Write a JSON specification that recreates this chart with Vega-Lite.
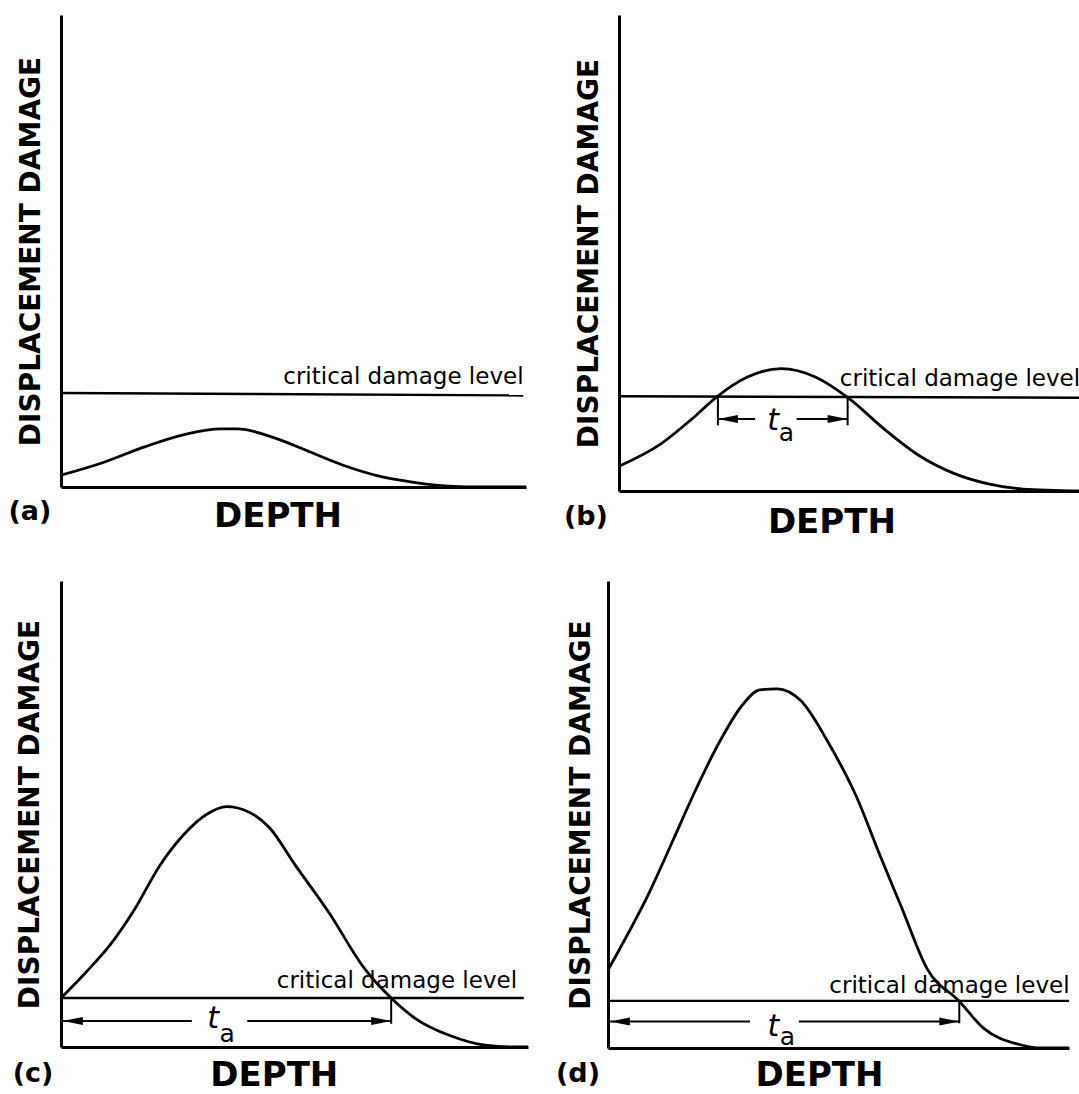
{
  "$schema": "https://vega.github.io/schema/vega-lite/v6.json",
  "background": "white",
  "padding": {"left": 8, "top": 15, "right": 0, "bottom": 0},
  "config": {
    "view": {"stroke": null},
    "axis": {"domainColor": "black", "domainWidth": 3, "ticks": false, "labels": false, "grid": false, "titleColor": "black", "titleFont": "DejaVu Sans", "titleFontWeight": "bold"},
    "axisX": {"titleFontSize": 34},
    "axisY": {"titleFontSize": 28}
  },
  "datasets": {
    "curve": [
      {"panel": "a", "x": 0, "y": 2.5}, {"panel": "a", "x": 9.1, "y": 5.2}, {"panel": "a", "x": 18.0, "y": 8.5}, {"panel": "a", "x": 26.9, "y": 11.2}, {"panel": "a", "x": 34.3, "y": 12.3}, {"panel": "a", "x": 38.0, "y": 12.3}, {"panel": "a", "x": 46.2, "y": 10.3}, {"panel": "a", "x": 53.6, "y": 7.4}, {"panel": "a", "x": 61.0, "y": 4.5}, {"panel": "a", "x": 68.4, "y": 2.3}, {"panel": "a", "x": 75.9, "y": 1.0}, {"panel": "a", "x": 83.3, "y": 0.2}, {"panel": "a", "x": 90.7, "y": 0}, {"panel": "a", "x": 100, "y": 0},
      {"panel": "b", "x": 0, "y": 5.2}, {"panel": "b", "x": 9.1, "y": 9.9}, {"panel": "b", "x": 15.8, "y": 15.1}, {"panel": "b", "x": 21.4, "y": 19.9}, {"panel": "b", "x": 27.8, "y": 23.9}, {"panel": "b", "x": 35.3, "y": 25.7}, {"panel": "b", "x": 42.8, "y": 23.9}, {"panel": "b", "x": 49.9, "y": 19.5}, {"panel": "b", "x": 57.8, "y": 12.9}, {"panel": "b", "x": 65.3, "y": 7.4}, {"panel": "b", "x": 72.8, "y": 3.7}, {"panel": "b", "x": 80.3, "y": 1.5}, {"panel": "b", "x": 87.8, "y": 0.4}, {"panel": "b", "x": 100, "y": 0},
      {"panel": "c", "x": 0, "y": 10.5}, {"panel": "c", "x": 5.3, "y": 16.0}, {"panel": "c", "x": 10.6, "y": 22.0}, {"panel": "c", "x": 15.8, "y": 29.6}, {"panel": "c", "x": 21.0, "y": 38.7}, {"panel": "c", "x": 26.2, "y": 45.5}, {"panel": "c", "x": 31.3, "y": 50.0}, {"panel": "c", "x": 35.4, "y": 51.6}, {"panel": "c", "x": 40.3, "y": 50.4}, {"panel": "c", "x": 44.7, "y": 47.0}, {"panel": "c", "x": 49.9, "y": 39.4}, {"panel": "c", "x": 57.4, "y": 28.8}, {"panel": "c", "x": 64.8, "y": 17.1}, {"panel": "c", "x": 70.7, "y": 10.5}, {"panel": "c", "x": 75.9, "y": 6.1}, {"panel": "c", "x": 83.4, "y": 2.4}, {"panel": "c", "x": 90.8, "y": 0.4}, {"panel": "c", "x": 97.4, "y": 0}, {"panel": "c", "x": 100, "y": 0},
      {"panel": "d", "x": 0, "y": 16.7}, {"panel": "d", "x": 3.8, "y": 23.5}, {"panel": "d", "x": 9.0, "y": 33.4}, {"panel": "d", "x": 14.2, "y": 44.7}, {"panel": "d", "x": 18.7, "y": 54.6}, {"panel": "d", "x": 24.0, "y": 65.2}, {"panel": "d", "x": 29.2, "y": 73.5}, {"panel": "d", "x": 32.9, "y": 76.7}, {"panel": "d", "x": 36.7, "y": 76.9}, {"panel": "d", "x": 41.9, "y": 74.3}, {"panel": "d", "x": 47.9, "y": 65.2}, {"panel": "d", "x": 53.9, "y": 53.8}, {"panel": "d", "x": 59.1, "y": 41.0}, {"panel": "d", "x": 63.6, "y": 30.3}, {"panel": "d", "x": 69.2, "y": 17.0}, {"panel": "d", "x": 76.2, "y": 10.0}, {"panel": "d", "x": 81.5, "y": 4.2}, {"panel": "d", "x": 89.0, "y": 0.8}, {"panel": "d", "x": 94, "y": 0}, {"panel": "d", "x": 100, "y": 0}
    ],
    "critical": [
      {"panel": "a", "x": 0, "y": 19.9}, {"panel": "a", "x": 99.4, "y": 19.4},
      {"panel": "b", "x": 0, "y": 19.9}, {"panel": "b", "x": 100, "y": 19.6},
      {"panel": "c", "x": 0, "y": 10.5}, {"panel": "c", "x": 99.1, "y": 10.5},
      {"panel": "d", "x": 0, "y": 10.1}, {"panel": "d", "x": 100, "y": 10.1}
    ],
    "shafts": [
      {"panel": "b", "x": 21.5, "x2": 29.6, "y": 15.1}, {"panel": "b", "x": 38.6, "x2": 49.7, "y": 15.1},
      {"panel": "c", "x": 0, "x2": 28.0, "y": 5.6}, {"panel": "c", "x": 39.9, "x2": 70.7, "y": 5.6},
      {"panel": "d", "x": 0, "x2": 30.8, "y": 5.7}, {"panel": "d", "x": 41.4, "x2": 76.2, "y": 5.7}
    ],
    "bars": [
      {"panel": "b", "x": 21.5, "y": 19.9, "y2": 13.8}, {"panel": "b", "x": 49.7, "y": 19.6, "y2": 13.8},
      {"panel": "c", "x": 70.7, "y": 10.5, "y2": 5.0},
      {"panel": "d", "x": 76.2, "y": 10.0, "y2": 5.3}
    ],
    "heads": [
      {"panel": "b", "x": 21.5, "y": 15.1, "dir": "left"}, {"panel": "b", "x": 49.7, "y": 15.1, "dir": "right"},
      {"panel": "c", "x": 0.4, "y": 5.6, "dir": "left"}, {"panel": "c", "x": 70.7, "y": 5.6, "dir": "right"},
      {"panel": "d", "x": 0.4, "y": 5.7, "dir": "left"}, {"panel": "d", "x": 76.2, "y": 5.7, "dir": "right"}
    ],
    "notes": [
      {"panel": "a", "kind": "crit", "text": "critical damage level", "x": 47.8, "y": 21.9},
      {"panel": "b", "kind": "crit", "text": "critical damage level", "x": 48.0, "y": 22.0},
      {"panel": "c", "kind": "crit", "text": "critical damage level", "x": 46.2, "y": 12.7},
      {"panel": "d", "kind": "crit", "text": "critical damage level", "x": 48.0, "y": 11.8},
      {"panel": "b", "kind": "t", "text": "t", "x": 33.5, "y": 14.7},
      {"panel": "c", "kind": "t", "text": "t", "x": 32.6, "y": 6.1},
      {"panel": "d", "kind": "t", "text": "t", "x": 35.9, "y": 4.5},
      {"panel": "b", "kind": "sub", "text": "a", "x": 36.4, "y": 12.2},
      {"panel": "c", "kind": "sub", "text": "a", "x": 35.6, "y": 2.7},
      {"panel": "d", "kind": "sub", "text": "a", "x": 38.9, "y": 2.3},
      {"panel": "a", "kind": "tag", "text": "(a)", "x": -6.7, "y": -5.3},
      {"panel": "b", "kind": "tag", "text": "(b)", "x": -7.2, "y": -5.5},
      {"panel": "c", "kind": "tag", "text": "(c)", "x": -6.0, "y": -5.7},
      {"panel": "d", "kind": "tag", "text": "(d)", "x": -6.5, "y": -5.6}
    ]
  },
  "spacing": 42,
  "bounds": "full",
  "vconcat": [
    {
      "spacing": 93,
      "bounds": "flush",
      "hconcat": [
        {
          "width": 465, "height": 472,
          "encoding": {
            "x": {"field": "x", "type": "quantitative", "scale": {"domain": [0, 100], "nice": false, "zero": false}, "axis": {"title": "DEPTH", "titleX": 216.5, "titlePadding": 12}},
            "y": {"field": "y", "type": "quantitative", "scale": {"domain": [0, 100], "nice": false, "zero": false}, "axis": {"title": "DISPLACEMENT DAMAGE", "titlePadding": 16}}
          },
          "layer": [
            {"data": {"name": "curve"}, "transform": [{"filter": "datum.panel === 'a'"}], "mark": {"type": "line", "interpolate": "monotone", "color": "black", "strokeWidth": 2.8}},
            {"data": {"name": "critical"}, "transform": [{"filter": "datum.panel === 'a'"}], "mark": {"type": "line", "color": "black", "strokeWidth": 2.4}},
            {"data": {"name": "notes"}, "transform": [{"filter": "datum.panel === 'a' && datum.kind === 'crit'"}], "mark": {"type": "text", "font": "DejaVu Sans", "fontSize": 23, "align": "left", "baseline": "alphabetic", "color": "black"}, "encoding": {"text": {"field": "text"}}},
            {"data": {"name": "notes"}, "transform": [{"filter": "datum.panel === 'a' && datum.kind === 'tag'"}], "mark": {"type": "text", "font": "DejaVu Sans", "fontWeight": "bold", "fontSize": 27, "align": "center", "baseline": "middle", "color": "black"}, "encoding": {"text": {"field": "text"}}}
          ]
        },
        {
          "width": 460, "height": 476,
          "encoding": {
            "x": {"field": "x", "type": "quantitative", "scale": {"domain": [0, 100], "nice": false, "zero": false}, "axis": {"title": "DEPTH", "titleX": 212.4, "titlePadding": 14}},
            "y": {"field": "y", "type": "quantitative", "scale": {"domain": [0, 100], "nice": false, "zero": false}, "axis": {"title": "DISPLACEMENT DAMAGE", "titlePadding": 16}}
          },
          "layer": [
            {"data": {"name": "curve"}, "transform": [{"filter": "datum.panel === 'b'"}], "mark": {"type": "line", "interpolate": "monotone", "color": "black", "strokeWidth": 2.8}},
            {"data": {"name": "critical"}, "transform": [{"filter": "datum.panel === 'b'"}], "mark": {"type": "line", "color": "black", "strokeWidth": 2.4}},
            {"data": {"name": "shafts"}, "transform": [{"filter": "datum.panel === 'b'"}], "mark": {"type": "rule", "color": "black", "strokeWidth": 2}, "encoding": {"x2": {"field": "x2"}}},
            {"data": {"name": "bars"}, "transform": [{"filter": "datum.panel === 'b'"}], "mark": {"type": "rule", "color": "black", "strokeWidth": 2}, "encoding": {"y2": {"field": "y2"}}},
            {"data": {"name": "heads"}, "transform": [{"filter": "datum.panel === 'b'"}], "mark": {"type": "point", "filled": true, "color": "black", "opacity": 1, "size": 100}, "encoding": {"shape": {"field": "dir", "type": "nominal", "scale": {"domain": ["left", "right"], "range": ["M0,0L4,-0.8L4,0.8Z", "M0,0L-4,-0.8L-4,0.8Z"]}, "legend": null}}},
            {"data": {"name": "notes"}, "transform": [{"filter": "datum.panel === 'b' && datum.kind === 'crit'"}], "mark": {"type": "text", "font": "DejaVu Sans", "fontSize": 23, "align": "left", "baseline": "alphabetic", "color": "black"}, "encoding": {"text": {"field": "text"}}},
            {"data": {"name": "notes"}, "transform": [{"filter": "datum.panel === 'b' && datum.kind === 't'"}], "mark": {"type": "text", "font": "DejaVu Sans", "fontStyle": "italic", "fontSize": 30, "align": "center", "baseline": "middle", "color": "black"}, "encoding": {"text": {"field": "text"}}},
            {"data": {"name": "notes"}, "transform": [{"filter": "datum.panel === 'b' && datum.kind === 'sub'"}], "mark": {"type": "text", "font": "DejaVu Sans", "fontSize": 25, "align": "center", "baseline": "middle", "color": "black"}, "encoding": {"text": {"field": "text"}}},
            {"data": {"name": "notes"}, "transform": [{"filter": "datum.panel === 'b' && datum.kind === 'tag'"}], "mark": {"type": "text", "font": "DejaVu Sans", "fontWeight": "bold", "fontSize": 27, "align": "center", "baseline": "middle", "color": "black"}, "encoding": {"text": {"field": "text"}}}
          ]
        }
      ]
    },
    {
      "spacing": 80,
      "bounds": "flush",
      "hconcat": [
        {
          "width": 467, "height": 466,
          "encoding": {
            "x": {"field": "x", "type": "quantitative", "scale": {"domain": [0, 100], "nice": false, "zero": false}, "axis": {"title": "DEPTH", "titleX": 212.8, "titlePadding": 11}},
            "y": {"field": "y", "type": "quantitative", "scale": {"domain": [0, 100], "nice": false, "zero": false}, "axis": {"title": "DISPLACEMENT DAMAGE", "titlePadding": 17}}
          },
          "layer": [
            {"data": {"name": "curve"}, "transform": [{"filter": "datum.panel === 'c'"}], "mark": {"type": "line", "interpolate": "monotone", "color": "black", "strokeWidth": 2.8}},
            {"data": {"name": "critical"}, "transform": [{"filter": "datum.panel === 'c'"}], "mark": {"type": "line", "color": "black", "strokeWidth": 2.4}},
            {"data": {"name": "shafts"}, "transform": [{"filter": "datum.panel === 'c'"}], "mark": {"type": "rule", "color": "black", "strokeWidth": 2}, "encoding": {"x2": {"field": "x2"}}},
            {"data": {"name": "bars"}, "transform": [{"filter": "datum.panel === 'c'"}], "mark": {"type": "rule", "color": "black", "strokeWidth": 2}, "encoding": {"y2": {"field": "y2"}}},
            {"data": {"name": "heads"}, "transform": [{"filter": "datum.panel === 'c'"}], "mark": {"type": "point", "filled": true, "color": "black", "opacity": 1, "size": 100}, "encoding": {"shape": {"field": "dir", "type": "nominal", "scale": {"domain": ["left", "right"], "range": ["M0,0L4,-0.8L4,0.8Z", "M0,0L-4,-0.8L-4,0.8Z"]}, "legend": null}}},
            {"data": {"name": "notes"}, "transform": [{"filter": "datum.panel === 'c' && datum.kind === 'crit'"}], "mark": {"type": "text", "font": "DejaVu Sans", "fontSize": 23, "align": "left", "baseline": "alphabetic", "color": "black"}, "encoding": {"text": {"field": "text"}}},
            {"data": {"name": "notes"}, "transform": [{"filter": "datum.panel === 'c' && datum.kind === 't'"}], "mark": {"type": "text", "font": "DejaVu Sans", "fontStyle": "italic", "fontSize": 30, "align": "center", "baseline": "middle", "color": "black"}, "encoding": {"text": {"field": "text"}}},
            {"data": {"name": "notes"}, "transform": [{"filter": "datum.panel === 'c' && datum.kind === 'sub'"}], "mark": {"type": "text", "font": "DejaVu Sans", "fontSize": 25, "align": "center", "baseline": "middle", "color": "black"}, "encoding": {"text": {"field": "text"}}},
            {"data": {"name": "notes"}, "transform": [{"filter": "datum.panel === 'c' && datum.kind === 'tag'"}], "mark": {"type": "text", "font": "DejaVu Sans", "fontWeight": "bold", "fontSize": 27, "align": "center", "baseline": "middle", "color": "black"}, "encoding": {"text": {"field": "text"}}}
          ]
        },
        {
          "width": 461, "height": 467,
          "encoding": {
            "x": {"field": "x", "type": "quantitative", "scale": {"domain": [0, 100], "nice": false, "zero": false}, "axis": {"title": "DEPTH", "titleX": 211, "titlePadding": 10}},
            "y": {"field": "y", "type": "quantitative", "scale": {"domain": [0, 100], "nice": false, "zero": false}, "axis": {"title": "DISPLACEMENT DAMAGE", "titlePadding": 13}}
          },
          "layer": [
            {"data": {"name": "curve"}, "transform": [{"filter": "datum.panel === 'd'"}], "mark": {"type": "line", "interpolate": "monotone", "color": "black", "strokeWidth": 2.8}},
            {"data": {"name": "critical"}, "transform": [{"filter": "datum.panel === 'd'"}], "mark": {"type": "line", "color": "black", "strokeWidth": 2.4}},
            {"data": {"name": "shafts"}, "transform": [{"filter": "datum.panel === 'd'"}], "mark": {"type": "rule", "color": "black", "strokeWidth": 2}, "encoding": {"x2": {"field": "x2"}}},
            {"data": {"name": "bars"}, "transform": [{"filter": "datum.panel === 'd'"}], "mark": {"type": "rule", "color": "black", "strokeWidth": 2}, "encoding": {"y2": {"field": "y2"}}},
            {"data": {"name": "heads"}, "transform": [{"filter": "datum.panel === 'd'"}], "mark": {"type": "point", "filled": true, "color": "black", "opacity": 1, "size": 100}, "encoding": {"shape": {"field": "dir", "type": "nominal", "scale": {"domain": ["left", "right"], "range": ["M0,0L4,-0.8L4,0.8Z", "M0,0L-4,-0.8L-4,0.8Z"]}, "legend": null}}},
            {"data": {"name": "notes"}, "transform": [{"filter": "datum.panel === 'd' && datum.kind === 'crit'"}], "mark": {"type": "text", "font": "DejaVu Sans", "fontSize": 23, "align": "left", "baseline": "alphabetic", "color": "black"}, "encoding": {"text": {"field": "text"}}},
            {"data": {"name": "notes"}, "transform": [{"filter": "datum.panel === 'd' && datum.kind === 't'"}], "mark": {"type": "text", "font": "DejaVu Sans", "fontStyle": "italic", "fontSize": 30, "align": "center", "baseline": "middle", "color": "black"}, "encoding": {"text": {"field": "text"}}},
            {"data": {"name": "notes"}, "transform": [{"filter": "datum.panel === 'd' && datum.kind === 'sub'"}], "mark": {"type": "text", "font": "DejaVu Sans", "fontSize": 25, "align": "center", "baseline": "middle", "color": "black"}, "encoding": {"text": {"field": "text"}}},
            {"data": {"name": "notes"}, "transform": [{"filter": "datum.panel === 'd' && datum.kind === 'tag'"}], "mark": {"type": "text", "font": "DejaVu Sans", "fontWeight": "bold", "fontSize": 27, "align": "center", "baseline": "middle", "color": "black"}, "encoding": {"text": {"field": "text"}}}
          ]
        }
      ]
    }
  ]
}
